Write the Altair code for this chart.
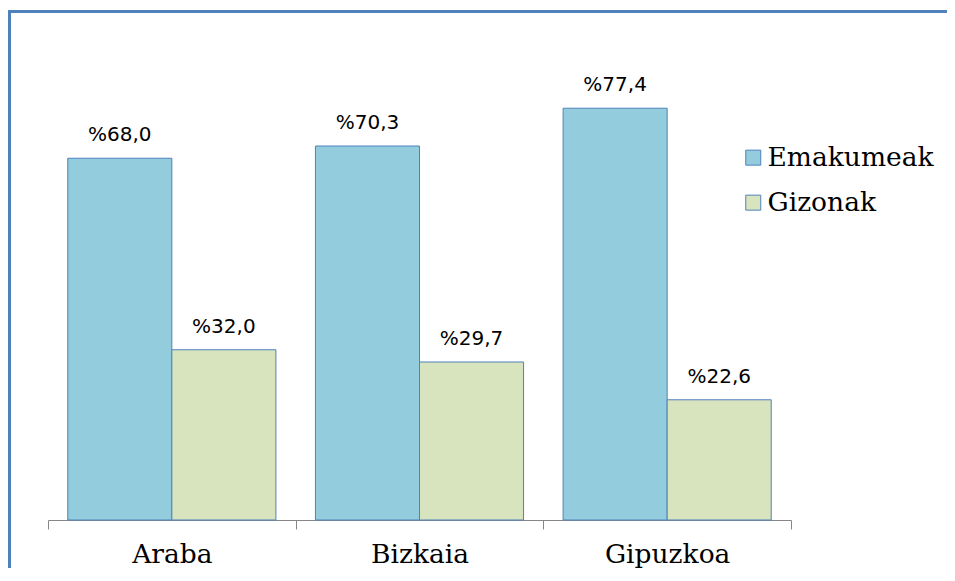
import altair as alt
import pandas as pd

regions = ["Araba", "Bizkaia", "Gipuzkoa"]
series = ["Emakumeak", "Gizonak"]
emakumeak = [68.0, 70.3, 77.4]
gizonak = [32.0, 29.7, 22.6]
colors = ["#93CDDD", "#D7E4BD"]

rows = []
for i, r in enumerate(regions):
    for s, vals in zip(series, [emakumeak, gizonak]):
        v = vals[i]
        rows.append({"region": r, "series": s, "value": v,
                     "label": "%" + f"{v:.1f}".replace(".", ",")})
df = pd.DataFrame(rows)

x = alt.X("region:N", sort=regions,
          scale=alt.Scale(paddingInner=0, paddingOuter=0),
          axis=alt.Axis(title=None, labelAngle=0, labelFont="DejaVu Serif",
                        labelFontSize=26.5, labelColor="black",
                        domainColor="#868686", tickColor="#868686",
                        tickSize=9, tickBand="extent", labelPadding=12,
                        grid=False))
xo = alt.XOffset("series:N", sort=series,
                 scale=alt.Scale(paddingInner=0, paddingOuter=0.19))
y = alt.Y("value:Q", scale=alt.Scale(domain=[0, 80]), axis=None)
color = alt.Color("series:N", sort=series,
                  scale=alt.Scale(domain=series, range=colors),
                  legend=alt.Legend(title=None, orient="none", legendX=692, legendY=50,
                                    labelFont="DejaVu Serif", labelFontSize=26.5,
                                    labelColor="black", labelLimit=400,
                                    symbolType="square",
                                    symbolSize=225, symbolStrokeColor="#4F81BD",
                                    symbolStrokeWidth=1, rowPadding=18, padding=0,
                                    labelOffset=1))

bars = alt.Chart(df).mark_bar(stroke="#4F81BD", strokeWidth=1).encode(
    x=x, xOffset=xo, y=y, color=color)

labels = alt.Chart(df).mark_text(font="DejaVu Sans", fontSize=20, dy=-17,
                                 baseline="alphabetic", color="black").encode(
    x=x, xOffset=xo, y=y, text="label:N")

dummy = pd.DataFrame({"a": [0]})
top_line = alt.Chart(dummy).mark_rule(color="#4F81BD", strokeWidth=3).encode(
    x=alt.value(-40), x2=alt.value(899), y=alt.value(-83))
left_line = alt.Chart(dummy).mark_rule(color="#4F81BD", strokeWidth=3).encode(
    x=alt.value(-38.5), y=alt.value(-84), y2=alt.value(480))

chart = alt.layer(bars, labels, top_line, left_line).properties(
    width=743, height=425.6,
    autosize=alt.AutoSizeParams(type="none"),
    padding={"left": 40, "top": 86.4, "right": 156, "bottom": 48},
).configure_view(stroke=None)

chart.save("out.html", embed_options={"renderer": "svg", "actions": False})
